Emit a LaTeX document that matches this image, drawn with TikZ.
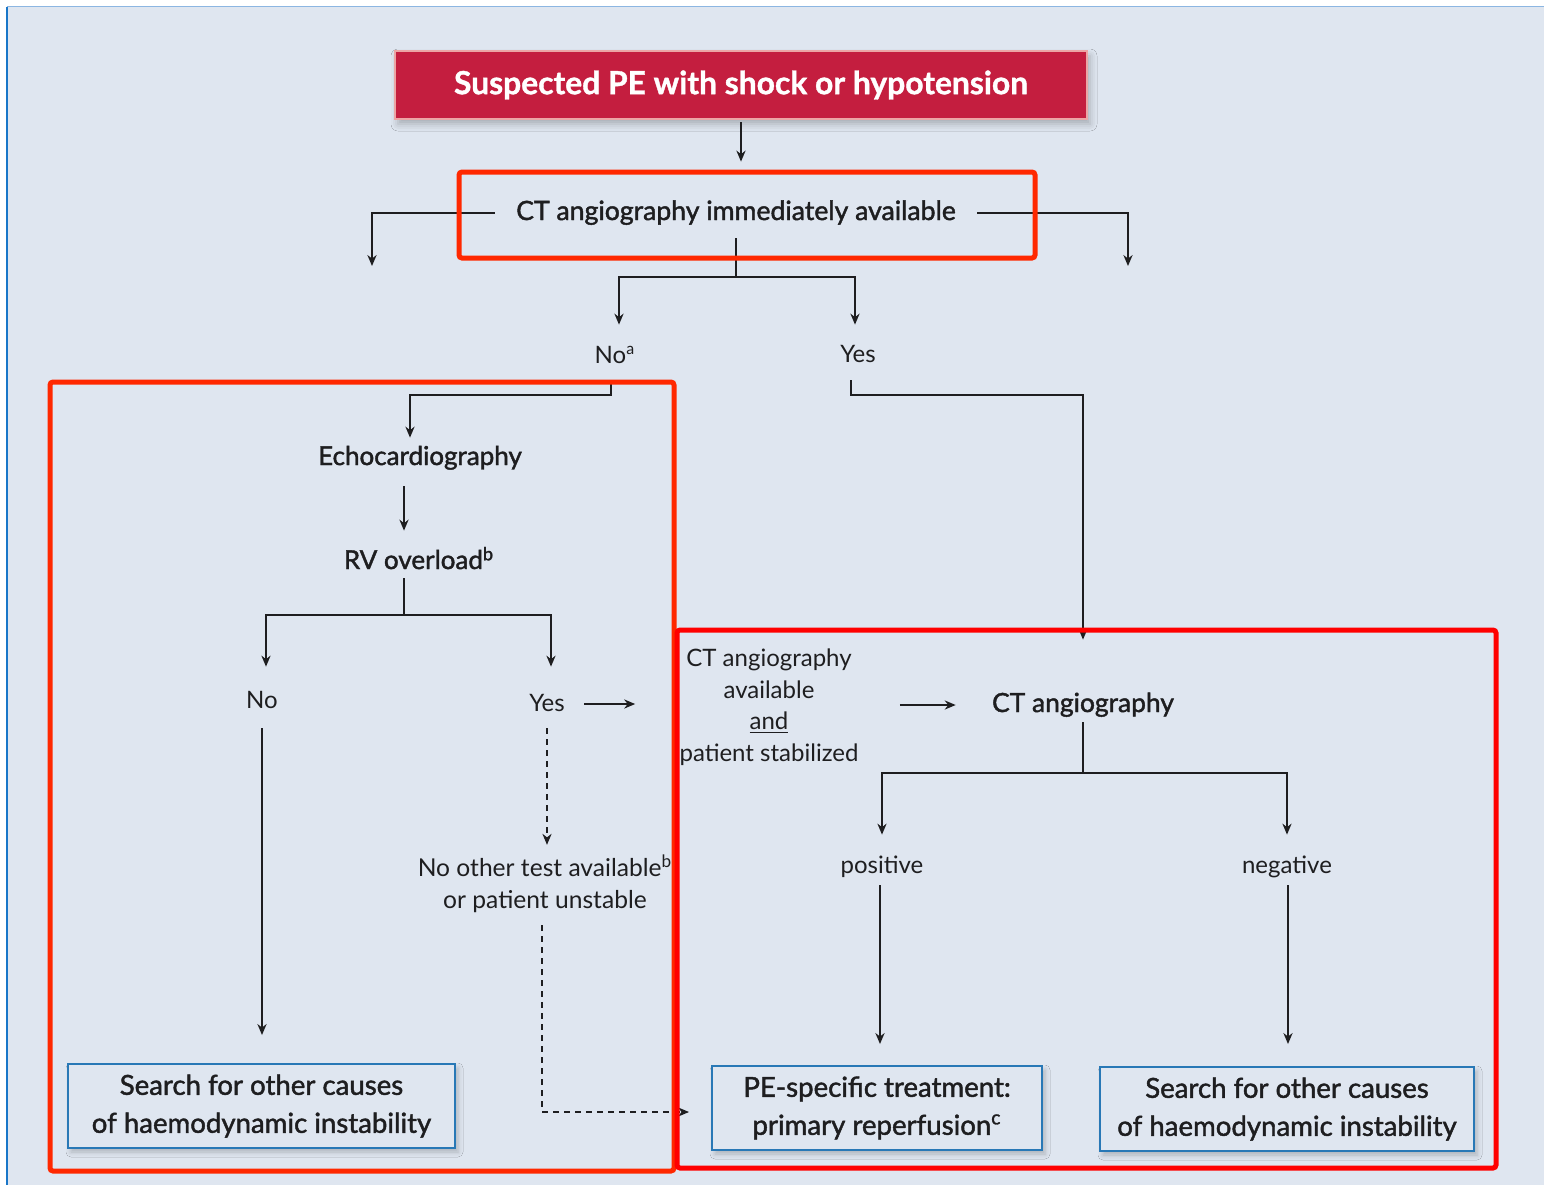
\documentclass[tikz,border=0pt]{standalone}
\usepackage{fontspec}
\setmainfont{Lato}
\newfontfamily\medfont[FakeBold=1.6]{Lato}
\newfontfamily\titlefont[BoldFeatures={FakeBold=1.2}]{Lato}
\usetikzlibrary{arrows.meta,shadows.blur,calc}
\definecolor{bg}{RGB}{223,230,240}
\definecolor{ink}{RGB}{30,30,32}
\definecolor{crimson}{RGB}{196,30,63}
\definecolor{pinkedge}{RGB}{236,165,165}
\definecolor{boxblue}{RGB}{40,120,182}
\definecolor{redA}{RGB}{255,40,0}
\definecolor{redB}{RGB}{255,0,0}
\definecolor{edgeblue}{RGB}{25,118,200}
\definecolor{edgelight}{RGB}{140,182,226}
\tikzset{
  lbl/.style={inner sep=0pt, text height=10pt, text depth=3pt, text=ink, font=\fontsize{12}{15}\selectfont},
  med/.style={lbl, font=\medfont\fontsize{13}{15}\selectfont},
  ml/.style={inner sep=0pt, align=center, text=ink},
  endbox/.style={draw=boxblue, line width=1pt, fill=bg, align=center, inner sep=0pt,
     minimum height=42pt, text=ink, font=\medfont\fontsize{13.8}{19}\selectfont,
     blur shadow={shadow xshift=1.5pt, shadow yshift=-2pt, shadow blur radius=2.5pt, shadow opacity=22}},
  titlebox/.style={fill=crimson, draw=pinkedge, line width=1.2pt, text=white, inner sep=0pt,
     minimum width=346pt, minimum height=34pt, font=\titlefont\bfseries\fontsize{15.9}{18}\selectfont,
     blur shadow={shadow xshift=1.5pt, shadow yshift=-2.5pt, shadow blur radius=3.5pt, shadow opacity=25}},
  conn/.style={draw=ink, line width=0.7pt},
  arr/.style={conn, -{Stealth[length=5.5pt,width=4.6pt]}},
  dasharr/.style={arr, dash pattern=on 3pt off 2.5pt},
  hiA/.style={draw=redA, line width=2.5pt, rounded corners=1.5pt},
  hiB/.style={draw=redB, line width=2.5pt, rounded corners=1.5pt}
}
\begin{document}
\begin{tikzpicture}[x=0.5pt,y=-0.5pt]
\useasboundingbox (0,0) rectangle (1544,1185);
\fill[white] (0,0) rectangle (1544,1185);
\fill[bg] (7,7) rectangle (1544,1185);
\draw[edgelight, line width=0.8pt] (7,6.5) -- (1544,6.5);
\draw[edgeblue, line width=1pt] (7,6.5) -- (7,1185);

% nodes
\node[titlebox] (top) at (741,85) {Suspected PE with shock or hypotension};
\node[med, font=\medfont\fontsize{13.3}{15}\selectfont, minimum width=241pt, minimum height=25pt] (ct) at (736,213) {CT angiography immediately available};
\coordinate (ctL) at (372,266);
\coordinate (ctR) at (1128,266);
\coordinate (j1) at (736,277);
\node[lbl] (noA) at (615,356) {No\textsuperscript{a}};
\node[lbl] (yesA) at (858,355) {Yes};
\coordinate (j2) at (410,395);
\coordinate (j5) at (1083,395);
\node[med] (echo) at (420,458) {Echocardiography};
\node[med] (rv) at (419,562) {RV overload\textsuperscript{b}};
\coordinate (j3) at (404,615);
\node[lbl] (no2) at (262,701) {No};
\node[lbl] (yes2) at (547,704) {Yes};
\node[ml, font=\fontsize{12.3}{16}\selectfont] (noother) at (545,884) {No other test available\textsuperscript{b}\\or patient unstable};
\node[ml, font=\fontsize{12}{15.75}\selectfont] (ctavail) at (769,707) {CT angiography\\available\\\underline{and}\\patient stabilized};
\node[med, font=\medfont\fontsize{13.2}{15}\selectfont] (cta) at (1083,705) {CT angiography};
\coordinate (j4) at (1083,773);
\node[lbl] (pos) at (882,866) {positive};
\node[lbl] (neg) at (1287,866) {negative};
\node[endbox, minimum width=193.5pt] (box1) at (261.5,1106) {Search for other causes\\of haemodynamic instability};
\node[endbox, minimum width=165pt] (box2) at (877,1108) {PE-specific treatment:\\primary reperfusion\textsuperscript{c}};
\node[endbox, minimum width=187pt] (box3) at (1287,1109) {Search for other causes\\of haemodynamic instability};

% connectors
\draw[arr, shorten <=1pt, shorten >=13pt] (top.south) -- (top.south |- ct.north);
\draw[arr] (ct.west) -| (ctL);
\draw[arr] (ct.east) -| (ctR);
\draw[conn] (ct.south) -- (j1);
\draw[arr, shorten >=9pt] (j1) -| ([xshift=2pt]noA.north);
\draw[arr, shorten >=8.5pt] (j1) -| ([xshift=-1.5pt]yesA.north);
\draw[arr, shorten <=6.5pt, shorten >=3.5pt] ([xshift=-2pt]noA.south) |- (j2) -- ([xshift=-5pt]echo.north);
\draw[arr, shorten <=6pt, shorten >=26pt] ([xshift=-3.5pt]yesA.south) |- (j5) -- (cta.north);
\draw[arr, shorten <=7.5pt, shorten >=9pt] ([xshift=-8pt]echo.south) -- ([xshift=-8pt]echo.south |- rv.north);
\draw[conn, shorten <=1.5pt] ([xshift=-7.5pt]rv.south) -- (j3);
\draw[arr, shorten >=10.5pt] (j3) -| ([xshift=2pt]no2.north);
\draw[arr, shorten >=12pt] (j3) -| ([xshift=2pt]yes2.north);
\draw[arr, shorten <=7pt, shorten >=14pt] (no2.south) -- (no2.south |- box1.north);
\draw[arr, shorten <=9.5pt, shorten >=22pt] (yes2.east) -- (yes2.east -| ctavail.west);
\draw[dasharr, shorten <=5.5pt, shorten >=5pt] (yes2.south) -- (yes2.south |- noother.north);
\draw[dasharr, shorten <=6pt, shorten >=11pt] ([xshift=-1.5pt]noother.south) |- ([yshift=-2pt]box2.west);
\draw[arr, shorten <=20.5pt, shorten >=18pt] (ctavail.east |- cta.west) -- (cta.west);
\draw[conn, shorten <=2pt] (cta.south) -- (j4);
\draw[arr, shorten >=9pt] (j4) -| (pos.north);
\draw[arr, shorten >=9pt] (j4) -| (neg.north);
\draw[arr, shorten <=3pt, shorten >=10.5pt] ([xshift=-1pt]pos.south) -- ([xshift=-1pt]pos.south |- box2.north);
\draw[arr, shorten <=3pt, shorten >=11pt] ([xshift=0.5pt]neg.south) -- ([xshift=0.5pt]neg.south |- box3.north);

% highlight frames
\draw[hiA] (459,172) rectangle (1035,258);
\draw[hiA] (50,382) rectangle (674,1171);
\draw[hiB] (677,630) rectangle (1496,1168);
\end{tikzpicture}
\end{document}
